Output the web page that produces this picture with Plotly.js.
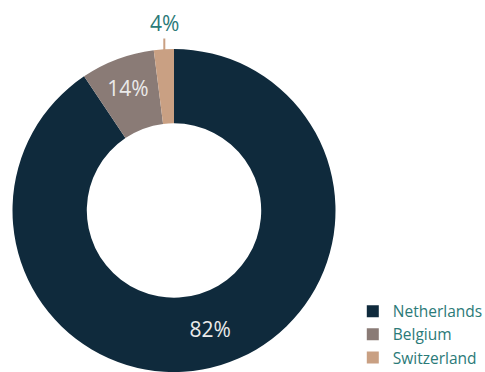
<!DOCTYPE html>
<html><head><meta charset="utf-8">
<script src="https://cdn.plot.ly/plotly-3.0.1.min.js"></script>
<style>html,body{margin:0;padding:0;background:#fff}</style>
</head><body><div id="chart" style="width:485px;height:372px"></div>
<script>
var countries = ["Netherlands", "Belgium", "Switzerland"];
var sliceValues = [90.6, 7.4, 2.0];
var shareLabels = ["82%", "14%", "4%"];
var sliceColors = ["#0f2a3c", "#8a7b76", "#c9a083"];

var trace = {
  type: "pie",
  labels: countries,
  values: sliceValues,
  text: shareLabels,
  textinfo: "text",
  hole: 0.54,
  sort: false,
  direction: "clockwise",
  rotation: 0,
  marker: {colors: sliceColors, line: {width: 0}},
  textposition: ["inside", "inside", "none"],
  insidetextorientation: "horizontal",
  insidetextfont: {family: "Open Sans", size: 21, color: "#eaeaea"},
  domain: {x: [0, 0.685], y: [0, 1]}
};

var layout = {
  width: 485, height: 372,
  margin: {l: 12, r: 0, t: 49, b: 0, autoexpand: false},
  paper_bgcolor: "#ffffff",
  showlegend: true,
  legend: {
    x: 0.7205, y: -0.008, xanchor: "left", yanchor: "bottom",
    font: {family: "Open Sans", size: 15.5, color: "#2b7a78"},
    tracegroupgap: 0
  },
  annotations: [{
    xref: "paper", yref: "paper", x: 0.322, y: 0.997,
    text: shareLabels[2], showarrow: true, arrowhead: 0, arrowwidth: 2,
    arrowcolor: sliceColors[2], ax: 0, ay: -27, standoff: 0,
    font: {family: "Open Sans", size: 21, color: "#2b7a78"}
  }]
};
Plotly.newPlot("chart", [trace], layout, {displayModeBar: false});
</script></body></html>
